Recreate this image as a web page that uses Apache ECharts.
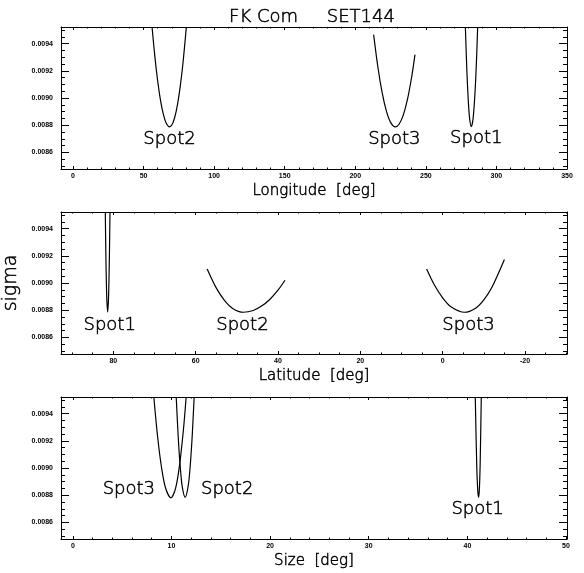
<!DOCTYPE html>
<html><head><meta charset="utf-8">
<script src="https://cdn.jsdelivr.net/npm/echarts@6/dist/echarts.min.js"></script>
<style>html,body{margin:0;padding:0;background:#fff}#c{width:584px;height:573px}</style>
</head><body><div id="c"></div>
<script>
// ---- text / ticks ----
const titleText = 'FK Com     SET144';
const yName = 'sigma';
const xNames = ['Longitude  [deg]', 'Latitude  [deg]', 'Size  [deg]'];
const sigmaTicks = [0.0086, 0.0088, 0.0090, 0.0092, 0.0094];
const sigmaRange = [0.008478, 0.009522];
const lonTicks = [0, 50, 100, 150, 200, 250, 300, 350];
const latTicks = [80, 60, 40, 20, 0, -20];
const sizeTicks = [0, 10, 20, 30, 40, 50];
const lonRange = [-8.5, 350];
const latRange = [-30.2, 92.7];
const sizeRange = [-1.2, 50.1];

// ---- data: Longitude panel ----
const lonSpot2X = [56.0, 58, 60, 62, 64, 66, 68.4, 70, 72, 74, 76, 78, 80.3];
const lonSpot2Y = [0.009522, 0.009304, 0.009125, 0.008983, 0.008881, 0.008816, 0.008788, 0.008801, 0.008855, 0.008950, 0.009087, 0.009265, 0.009522];
const lonSpot3X = [213, 216, 219, 222, 225, 228.4, 231, 234, 237, 240, 242.3];
const lonSpot3Y = [0.009466, 0.009228, 0.009041, 0.008905, 0.008821, 0.008788, 0.008807, 0.008874, 0.008991, 0.009158, 0.009319];
const lonSpot1X = [278, 279, 280, 281, 282.2, 283.5, 285, 286, 286.7];
const lonSpot1Y = [0.009522, 0.009215, 0.008991, 0.008850, 0.008790, 0.008851, 0.009073, 0.009311, 0.009522];

// ---- data: Latitude panel ----
const latSpot1X = [81.94, 81.8, 81.6, 81.37, 81.15, 80.95, 80.8];
const latSpot1Y = [0.009522, 0.009205, 0.008907, 0.008787, 0.008896, 0.009186, 0.009522];
const latSpot2X = [57.2, 55, 53, 51, 48.4, 46, 44, 42, 40, 38.3];
const latSpot2Y = [0.009103, 0.008964, 0.008872, 0.008813, 0.008785, 0.008798, 0.008830, 0.008879, 0.008947, 0.009020];
const latSpot3X = [3.9, 2, 0, -2, -5.3, -8, -10, -12, -15];
const latSpot3Y = [0.009103, 0.008985, 0.008891, 0.008826, 0.008785, 0.008815, 0.008876, 0.008970, 0.009172];

// ---- data: Size panel ----
const sizeSpot3X = [8.21, 8.6, 9.0, 9.4, 9.94, 10.4, 10.8, 11.2, 11.49];
const sizeSpot3Y = [0.009522, 0.009226, 0.009000, 0.008853, 0.008781, 0.008846, 0.009010, 0.009272, 0.009522];
const sizeSpot2X = [10.48, 10.7, 10.9, 11.1, 11.39, 11.7, 11.9, 12.1, 12.3];
const sizeSpot2Y = [0.009522, 0.009208, 0.008998, 0.008859, 0.008784, 0.008870, 0.009015, 0.009233, 0.009522];
const sizeSpot1X = [40.8, 40.95, 41.05, 41.14, 41.22, 41.3, 41.41];
const sizeSpot1Y = [0.009522, 0.009014, 0.008836, 0.008784, 0.008849, 0.009043, 0.009522];

const zip = (xs, ys) => xs.map((x, i) => [x, ys[i]]);

function minorTicks(range, step, majors) {
  const lo = Math.min(range[0], range[1]), hi = Math.max(range[0], range[1]);
  const out = [];
  for (let k = Math.ceil(lo / step - 1e-9); k * step <= hi + step * 1e-6; k++) {
    const v = +(k * step).toFixed(10);
    if (!majors.some(m => Math.abs(m - v) < step * 1e-3)) out.push(v);
  }
  return out;
}

const panels = [
  { name: xNames[0], range: lonRange, ticks: lonTicks, minorStep: 10, inverse: false,
    curves: [
      { label: 'Spot2', data: zip(lonSpot2X, lonSpot2Y), off: [0, 12] },
      { label: 'Spot3', data: zip(lonSpot3X, lonSpot3Y), off: [-1, 12] },
      { label: 'Spot1', data: zip(lonSpot1X, lonSpot1Y), off: [5, 12] }
    ] },
  { name: xNames[1], range: latRange, ticks: latTicks, minorStep: 5, inverse: true,
    curves: [
      { label: 'Spot1', data: zip(latSpot1X, latSpot1Y), off: [2, 13] },
      { label: 'Spot2', data: zip(latSpot2X, latSpot2Y), off: [-1, 13] },
      { label: 'Spot3', data: zip(latSpot3X, latSpot3Y), off: [4, 13] }
    ] },
  { name: xNames[2], range: sizeRange, ticks: sizeTicks, minorStep: 2, inverse: false,
    curves: [
      { label: 'Spot3', data: zip(sizeSpot3X, sizeSpot3Y), off: [-42, -8] },
      { label: 'Spot2', data: zip(sizeSpot2X, sizeSpot2Y), off: [42, -8] },
      { label: 'Spot1', data: zip(sizeSpot1X, sizeSpot1Y), off: [-1, 12] }
    ] }
];

const gridTops = [27, 212, 397];
const black = '#000';
const thinFont = 'DejaVu Sans';
const thinText = { fontFamily: thinFont, fontWeight: 200, color: black, textBorderColor: black, textBorderWidth: 0.5 };
const tickFont = { fontSize: 7, fontWeight: 'bold', fontFamily: 'Liberation Sans', color: black };
const sigmaMinor = minorTicks(sigmaRange, 0.00005, sigmaTicks);

const grid = [], xAxis = [], yAxis = [], series = [];
panels.forEach((p, i) => {
  grid.push({ left: 61, width: 506, top: gridTops[i], height: 142, containLabel: false, outerBoundsMode: 'none' });
  const minors = minorTicks(p.range, p.minorStep, p.ticks);
  const base = { type: 'value', gridIndex: i, min: p.range[0], max: p.range[1], inverse: p.inverse,
    splitLine: { show: false }, minorTick: { show: false }, minorSplitLine: { show: false } };
  const mk = (pos, vals, len, line, label) => Object.assign({}, base, {
    position: pos,
    axisLine: { show: line, onZero: false, lineStyle: { color: black, width: 1 } },
    axisTick: { show: true, inside: true, length: len, customValues: vals, lineStyle: { color: black, width: 1 } },
    axisLabel: label ? Object.assign({ show: true, customValues: vals, margin: 4 }, tickFont) : { show: false }
  });
  const xMain = mk('bottom', p.ticks, 3, true, true);
  xMain.name = p.name; xMain.nameLocation = 'middle'; xMain.nameGap = 15;
  xMain.nameTextStyle = Object.assign({ fontSize: 15 }, thinText);
  xAxis.push(xMain, mk('bottom', minors, 1.5, false, false), mk('top', p.ticks, 3, true, false), mk('top', minors, 1.5, false, false));

  const ybase = { type: 'value', gridIndex: i, min: sigmaRange[0], max: sigmaRange[1],
    splitLine: { show: false }, minorTick: { show: false }, minorSplitLine: { show: false } };
  const mky = (pos, vals, len, line, label) => Object.assign({}, ybase, {
    position: pos,
    axisLine: { show: line, onZero: false, lineStyle: { color: black, width: 1 } },
    axisTick: { show: true, inside: true, length: len, customValues: vals, lineStyle: { color: black, width: 1 } },
    axisLabel: label ? Object.assign({ show: true, customValues: vals, margin: 8, formatter: v => v.toFixed(4) }, tickFont) : { show: false }
  });
  const yMain = mky('left', sigmaTicks, 8, true, true);
  if (i === 1) {
    yMain.name = yName; yMain.nameLocation = 'middle'; yMain.nameGap = 34;
    yMain.nameTextStyle = Object.assign({ fontSize: 19 }, thinText);
  }
  yAxis.push(yMain, mky('left', sigmaMinor, 4, false, false), mky('right', sigmaTicks, 8, true, false), mky('right', sigmaMinor, 4, false, false));

  p.curves.forEach(c => {
    series.push({
      type: 'line', xAxisIndex: 4 * i, yAxisIndex: 4 * i, data: c.data,
      showSymbol: false, smooth: 0.3, clip: true,
      lineStyle: { color: black, width: 1.2 },
      markPoint: {
        symbol: 'circle', symbolSize: 1, silent: true,
        itemStyle: { color: 'rgba(0,0,0,0)' },
        label: Object.assign({ show: true, position: 'inside', offset: c.off, formatter: c.label, fontSize: 18 }, thinText),
        data: [{ type: 'min', valueDim: 'y' }]
      }
    });
  });
});

const chart = echarts.init(document.getElementById('c'), null, { renderer: 'canvas' });
chart.setOption({
  backgroundColor: '#fff',
  animation: false,
  graphic: [{ type: 'text', x: 312, y: 17, style: { text: titleText, textAlign: 'center', textVerticalAlign: 'middle',
    fontSize: 18, fontFamily: thinFont, fontWeight: 200, fill: black, stroke: black, lineWidth: 0.5 } }],
  grid, xAxis, yAxis, series
});
</script></body></html>
